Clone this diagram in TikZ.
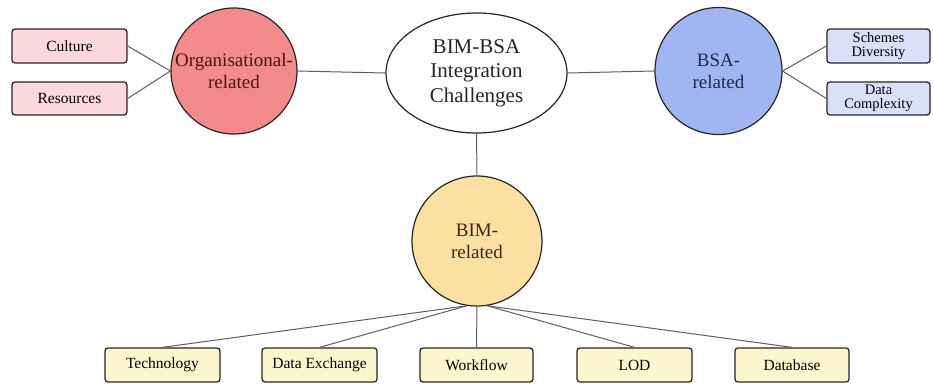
\documentclass[tikz,border=0pt]{standalone}
\usepackage{fontspec}
\setmainfont{Liberation Serif}
\usetikzlibrary{shapes.geometric}

\definecolor{orgfill}{HTML}{F38A8C}
\definecolor{orgbox}{HTML}{FBD8DB}
\definecolor{orgtext}{HTML}{4A1414}
\definecolor{bsafill}{HTML}{A1B5F2}
\definecolor{bsabox}{HTML}{D9E0FA}
\definecolor{bsatext}{HTML}{1E2A4C}
\definecolor{bimfill}{HTML}{FCE0A2}
\definecolor{bimbox}{HTML}{FDF6CF}
\definecolor{bimtext}{HTML}{3A2A12}
\definecolor{edge}{HTML}{2A2424}
\definecolor{link}{HTML}{5E5E5E}

\tikzset{
  hub/.style={circle, draw=edge, line width=1.2pt, inner sep=0pt, align=center,
    font=\fontsize{19}{22}\selectfont},
  topic/.style={rectangle, rounded corners=3pt, draw=edge, line width=1.3pt,
    inner sep=0pt, minimum height=34pt, align=center,
    font=\fontsize{15.5}{16}\selectfont},
  twoline/.style={font=\fontsize{14.5}{14}\selectfont},
  link/.style={draw=link, line width=1pt},
}

\begin{document}
\begin{tikzpicture}[x=1pt, y=-1pt]
  \useasboundingbox (0,0) rectangle (934,383);

  % central challenge
  \node[ellipse, draw=edge, line width=1.2pt, fill=white, minimum width=181pt,
        minimum height=120pt, inner sep=0pt, align=center,
        font=\fontsize{21}{24.5}\selectfont, text=black!85]
        (chal) at (476.5,73) {BIM-BSA\\Integration\\Challenges};

  % three challenge groups
  \node[hub, fill=orgfill, text=orgtext, minimum size=126pt]
        (org) at (234,71) {Organisational-\\related};
  \node[hub, fill=bsafill, text=bsatext, minimum size=127pt]
        (bsa) at (718.5,71) {BSA-\\related};
  \node[hub, fill=bimfill, text=bimtext, minimum size=130pt]
        (bim) at (477,241) {BIM-\\related};

  % organisational topics
  \node[topic, fill=orgbox, minimum width=115pt] (culture) at (69.5,46) {Culture};
  \node[topic, fill=orgbox, minimum width=115pt, minimum height=33pt]
        (resources) at (69.5,98.5) {Resources};

  % BSA topics
  \node[topic, twoline, fill=bsabox, minimum width=103pt]
        (schemes) at (878.5,46) {Schemes\\Diversity};
  \node[topic, twoline, fill=bsabox, minimum width=103pt, minimum height=33pt]
        (datacx) at (878.5,98.5) {Data\\Complexity};

  % BIM topics
  \node[topic, fill=bimbox, minimum width=115pt] (tech)     at (162.5,365) {Technology};
  \node[topic, fill=bimbox, minimum width=115pt] (exchange) at (319.5,365) {Data Exchange};
  \node[topic, fill=bimbox, minimum width=113pt] (workflow) at (476.5,365) {Workflow};
  \node[topic, fill=bimbox, minimum width=115pt] (lod)      at (634.5,365) {LOD};
  \node[topic, fill=bimbox, minimum width=114pt] (database) at (792,365)   {Database};

  % connectors
  \path[link] (culture.east)   -- (org.west);
  \path[link] (resources.east) -- (org.west);
  \path[link] (org.east) -- (chal.west);
  \path[link] (chal.east) -- (bsa.west);
  \path[link] (bsa.east) -- (schemes.west);
  \path[link] (bsa.east) -- (datacx.west);
  \path[link] (chal.south) -- (bim.north);
  \path[link] (bim.-99) -- (tech.north);
  \path[link] (bim.-99) -- (exchange.north);
  \path[link] (bim.south) -- (workflow.north);
  \path[link] (bim.-81) -- (lod.north);
  \path[link] (bim.-81) -- (database.north);
\end{tikzpicture}
\end{document}
